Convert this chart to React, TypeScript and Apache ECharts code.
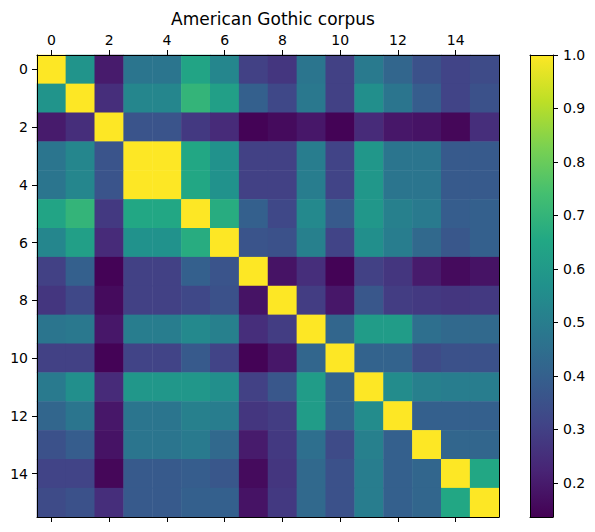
import React, { useEffect, useRef } from "react";
import * as echarts from "echarts";

const categories = ["0","1","2","3","4","5","6","7","8","9","10","11","12","13","14","15"];

const corr: number[][] = [
  [1.00, 0.58, 0.20, 0.47, 0.47, 0.64, 0.53, 0.30, 0.27, 0.47, 0.30, 0.49, 0.42, 0.35, 0.31, 0.33],
  [0.58, 1.00, 0.25, 0.53, 0.53, 0.70, 0.62, 0.40, 0.32, 0.48, 0.30, 0.56, 0.47, 0.39, 0.31, 0.35],
  [0.20, 0.25, 1.00, 0.36, 0.36, 0.28, 0.24, 0.14, 0.16, 0.19, 0.14, 0.24, 0.19, 0.18, 0.15, 0.25],
  [0.47, 0.53, 0.36, 1.00, 1.00, 0.65, 0.57, 0.30, 0.30, 0.50, 0.31, 0.59, 0.47, 0.47, 0.38, 0.38],
  [0.47, 0.53, 0.36, 1.00, 1.00, 0.65, 0.57, 0.30, 0.30, 0.50, 0.31, 0.59, 0.47, 0.47, 0.38, 0.38],
  [0.64, 0.70, 0.28, 0.65, 0.65, 1.00, 0.67, 0.40, 0.32, 0.54, 0.38, 0.59, 0.51, 0.49, 0.39, 0.40],
  [0.53, 0.62, 0.24, 0.57, 0.57, 0.67, 1.00, 0.36, 0.35, 0.51, 0.31, 0.56, 0.50, 0.43, 0.37, 0.40],
  [0.30, 0.40, 0.14, 0.30, 0.30, 0.40, 0.36, 1.00, 0.18, 0.25, 0.14, 0.30, 0.27, 0.20, 0.16, 0.18],
  [0.27, 0.32, 0.16, 0.30, 0.30, 0.32, 0.35, 0.18, 1.00, 0.29, 0.19, 0.37, 0.29, 0.28, 0.27, 0.28],
  [0.47, 0.48, 0.19, 0.50, 0.50, 0.54, 0.51, 0.25, 0.29, 1.00, 0.42, 0.61, 0.61, 0.45, 0.43, 0.43],
  [0.30, 0.30, 0.14, 0.31, 0.31, 0.38, 0.31, 0.14, 0.19, 0.42, 1.00, 0.41, 0.41, 0.33, 0.35, 0.35],
  [0.49, 0.56, 0.24, 0.59, 0.59, 0.59, 0.56, 0.30, 0.37, 0.61, 0.41, 1.00, 0.55, 0.51, 0.50, 0.50],
  [0.42, 0.47, 0.19, 0.47, 0.47, 0.51, 0.50, 0.27, 0.29, 0.61, 0.41, 0.55, 1.00, 0.40, 0.40, 0.40],
  [0.35, 0.39, 0.18, 0.47, 0.47, 0.49, 0.43, 0.20, 0.28, 0.45, 0.33, 0.51, 0.40, 1.00, 0.42, 0.42],
  [0.31, 0.31, 0.15, 0.38, 0.38, 0.39, 0.37, 0.16, 0.27, 0.43, 0.35, 0.50, 0.40, 0.42, 1.00, 0.65],
  [0.33, 0.35, 0.25, 0.38, 0.38, 0.40, 0.40, 0.18, 0.28, 0.43, 0.35, 0.50, 0.40, 0.42, 0.65, 1.00],
];

const cbMin = 0.136;
const cbMax = 1.0;
const cbTicks = [0.2, 0.3, 0.4, 0.5, 0.6, 0.7, 0.8, 0.9, 1.0];

const viridis = [
  "#440154", "#482475", "#414487", "#355f8d", "#2a788e", "#21918c",
  "#22a884", "#44bf70", "#7ad151", "#bddf26", "#fde725",
];

const FONT = "DejaVu Sans";

export default function App() {
  const ref = useRef<HTMLDivElement>(null);
  useEffect(() => {
    if (!ref.current) return;
    const chart = echarts.init(ref.current, null, { renderer: "svg" });
    const data: number[][] = [];
    corr.forEach((row, r) => row.forEach((v, c) => data.push([c, r, v])));

    const lineStyle = { color: "#000", width: 1 };
    const tick = { show: true, length: 5, lineStyle, interval: 1, alignWithLabel: true, inside: false };
    const label = { show: true, interval: 1, color: "#000", fontSize: 14, fontFamily: FONT };

    chart.setOption({
      animation: false,
      title: {
        text: "American Gothic corpus",
        left: 268,
        top: 5,
        textAlign: "center",
        textStyle: { fontFamily: FONT, fontSize: 17, fontWeight: "normal", color: "#000" },
      },
      grid: [
        { left: 37, top: 55, width: 462, height: 462, containLabel: false },
        { left: 530, top: 55, width: 23, height: 462, containLabel: false },
      ],
      xAxis: [
        { gridIndex: 0, type: "category", data: categories, position: "top", z: 10,
          axisLine: { show: true, onZero: false, lineStyle }, axisTick: tick,
          axisLabel: { ...label, margin: 8 }, splitLine: { show: false } },
        { gridIndex: 0, type: "category", data: categories, position: "bottom", z: 10,
          axisLine: { show: true, onZero: false, lineStyle }, axisTick: tick,
          axisLabel: { show: false }, splitLine: { show: false } },
        { gridIndex: 1, type: "category", data: ["cb"], position: "bottom", z: 10,
          axisLine: { show: true, onZero: false, lineStyle }, axisTick: { show: false },
          axisLabel: { show: false }, splitLine: { show: false } },
        { gridIndex: 1, type: "category", data: ["cb"], position: "top", z: 10,
          axisLine: { show: true, onZero: false, lineStyle }, axisTick: { show: false },
          axisLabel: { show: false }, splitLine: { show: false } },
      ],
      yAxis: [
        { gridIndex: 0, type: "category", data: categories, inverse: true, position: "left", z: 10,
          axisLine: { show: true, onZero: false, lineStyle }, axisTick: tick,
          axisLabel: { ...label, margin: 9 }, splitLine: { show: false } },
        { gridIndex: 0, type: "category", data: categories, inverse: true, position: "right", z: 10,
          axisLine: { show: true, onZero: false, lineStyle }, axisTick: { show: false },
          axisLabel: { show: false }, splitLine: { show: false } },
        { gridIndex: 1, type: "value", min: cbMin, max: cbMax, position: "right", z: 10,
          axisLine: { show: true, onZero: false, lineStyle },
          axisTick: { show: true, length: 5, lineStyle, customValues: cbTicks },
          axisLabel: { show: true, color: "#000", fontSize: 14, fontFamily: FONT, margin: 10,
            customValues: cbTicks, formatter: (v: number) => v.toFixed(1) },
          splitLine: { show: false } },
        { gridIndex: 1, type: "value", min: cbMin, max: cbMax, position: "left", z: 10,
          axisLine: { show: true, onZero: false, lineStyle }, axisTick: { show: false },
          axisLabel: { show: false }, splitLine: { show: false } },
      ],
      visualMap: {
        show: false,
        type: "continuous",
        seriesIndex: 0,
        min: cbMin,
        max: cbMax,
        inRange: { color: viridis },
      },
      series: [
        {
          type: "heatmap",
          xAxisIndex: 0,
          yAxisIndex: 0,
          data,
          itemStyle: { borderWidth: 0 },
          emphasis: { disabled: true },
        },
        {
          type: "custom",
          xAxisIndex: 2,
          yAxisIndex: 2,
          data: [[0, cbMin, cbMax]],
          encode: { x: 0, y: [1, 2] },
          renderItem: (params: any, api: any) => {
            const top = api.coord([0, api.value(2)]);
            const bot = api.coord([0, api.value(1)]);
            const w = api.size([1, 0])[0];
            return {
              type: "rect",
              shape: { x: top[0] - w / 2, y: top[1], width: w, height: bot[1] - top[1] },
              style: {
                fill: new echarts.graphic.LinearGradient(0, 1, 0, 0,
                  viridis.map((c, i) => ({ offset: i / (viridis.length - 1), color: c }))),
              },
            };
          },
        },
      ],
    });
    return () => chart.dispose();
  }, []);
  return (
    <div
      ref={ref}
      style={{ position: "fixed", left: 0, top: 0, width: 595, height: 532, background: "#fff" }}
    />
  );
}
